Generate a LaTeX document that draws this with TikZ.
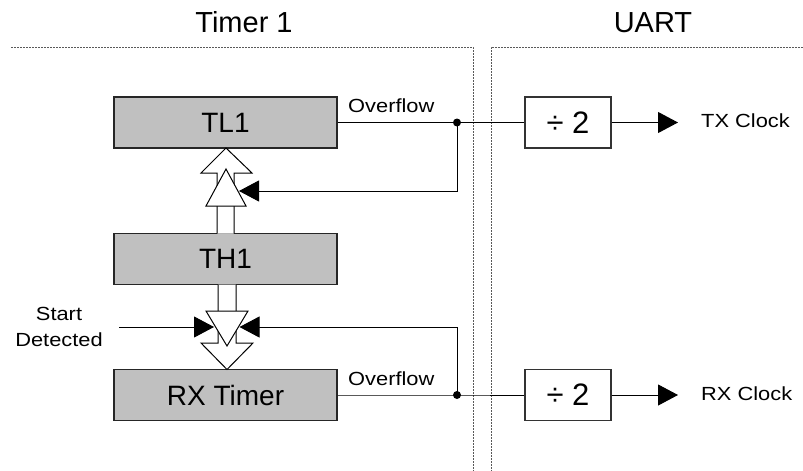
\documentclass[tikz,border=0pt]{standalone}
\usepackage{fontspec}
\setmainfont{Liberation Sans}
\newfontfamily\labfont[FakeStretch=1.15]{Liberation Sans}
\usetikzlibrary{arrows.meta}
\definecolor{regfill}{HTML}{C0C0C0}
\begin{document}
\begin{tikzpicture}[x=1pt,y=-1pt,
  reg/.style={draw=black!85, line width=1.3pt, fill=regfill, minimum width=223pt, minimum height=51pt, inner sep=0pt, font=\fontsize{28}{30}\selectfont},
  divbox/.style={draw=black!80, line width=1.2pt, fill=white, minimum width=86pt, minimum height=51pt, inner sep=0pt, font=\fontsize{31}{33}\selectfont},
  sig/.style={line width=1pt, draw=black},
  tip/.style={-{Triangle[length=20pt,width=21pt]}},
  lab/.style={font=\labfont\fontsize{19}{26}\selectfont, inner sep=0pt},
  title/.style={font=\fontsize{29}{31}\selectfont, inner sep=0pt, anchor=base},
  sep/.style={draw=black!65, line width=1pt, dash pattern=on 2pt off 1pt},
  hollow/.style={draw=black, line width=1pt, fill=white, line join=miter},
  dot/.style={circle, fill=black, inner sep=0pt, minimum size=8pt}
]
\useasboundingbox (0,0) rectangle (803,471);

% section separators and titles
\coordinate (lsA) at (11,47);
\coordinate (lsB) at (473,471);
\coordinate (rsA) at (803,47);
\coordinate (rsB) at (491,471);
\draw[sep] (lsA) -| (lsB);
\draw[sep] (rsA) -| (rsB);
\node[title] (t1) at (244,32) {Timer 1};
\node[title] (t2) at (653,32) {UART};

% registers
\node[reg] (tl1) at (225.5,122.5) {TL1};
\node[reg] (th1) at (225.5,259) {TH1};
\node[reg] (rx)  at (225.5,395) {RX Timer};

% dividers
\node[divbox] (d1) at (568,122.5) {÷ 2};
\node[divbox] (d2) at (568,395) {÷ 2};

% hollow arrows
\draw[hollow] (217,233.5) -- (217,173) -- (201,173) -- (226,148) -- (252,173) -- (234,173) -- (234,233.5);
\draw[hollow] (206,206) -- (246,206) -- (226,169) -- cycle;
\draw[hollow] (218,284.5) -- (218,343) -- (201,343) -- (227,369.5) -- (253,343) -- (236,343) -- (236,284.5);
\draw[hollow] (206,311) -- (248,311) -- (227,346) -- cycle;

% junctions
\node[dot] (j1) at (457,122.5) {};
\node[dot] (j2) at (457,395) {};

% overflow paths
\draw[sig] (tl1.east) -- (j1.center) -- (d1.west);
\draw[sig] (rx.east) -- (j2.center) -- (d2.west);
\node[lab, anchor=base west] (ov1) at (348,112) {Overflow};
\node[lab, anchor=base west] (ov2) at (348,385) {Overflow};

% clock outputs
\coordinate (txe) at (678,122.5);
\coordinate (rxe) at (678,395);
\draw[sig,tip] (d1.east) -- (txe);
\draw[sig,tip] (d2.east) -- (rxe);
\node[lab, anchor=base west] (txl) at (701,127) {TX Clock};
\node[lab, anchor=base west] (rxl) at (701,400) {RX Clock};

% feedback to triangles
\coordinate (fb1) at (239,191);
\coordinate (fb2) at (239.5,327);
\draw[sig,tip] (j1.center) |- (fb1);
\draw[sig,tip] (j2.center) |- (fb2);

% start detected
\node[lab, align=center] (sd) at (59,327) {Start\\Detected};
\coordinate (st) at (119,327);
\coordinate (ste) at (214,327);
\draw[sig,tip] (st) -- (ste);
\end{tikzpicture}
\end{document}
